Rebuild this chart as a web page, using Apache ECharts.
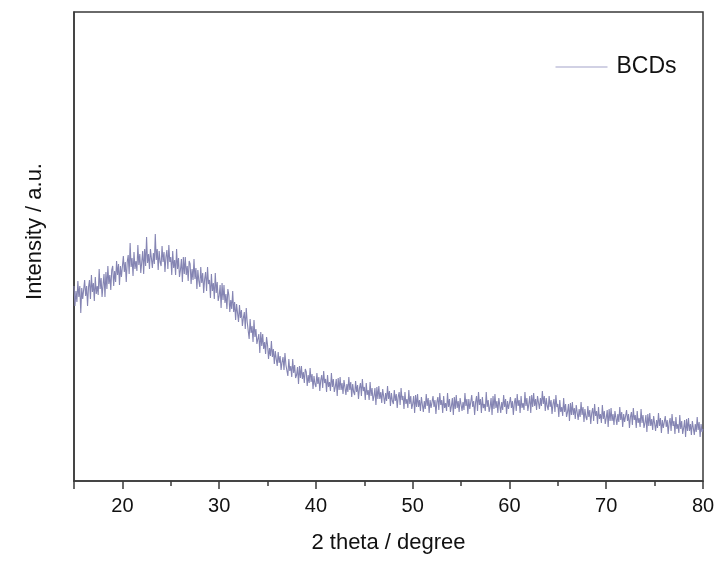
<!DOCTYPE html>
<html>
<head>
<meta charset="utf-8">
<script src="https://cdn.jsdelivr.net/npm/echarts@6/dist/echarts.min.js"></script>
<style>
html,body{margin:0;padding:0;background:#fff;}
#chart{width:720px;height:563px;}
</style>
</head>
<body>
<div id="chart"></div>
<script>
// Sampling of the pattern (2 theta, degrees)
const angleStart = 15;
const angleStep = 0.1;

// Intensity (arbitrary units), one row per degree, 10 samples per row
const intensity15to29 = [
  169,149,164,153,174,158,169,142,167,156,
  155,175,159,169,149,168,175,156,180,163,
  172,154,178,161,169,160,186,166,177,158,
  170,181,158,183,166,189,171,180,165,185,
  189,169,184,173,194,180,191,170,189,178,
  179,199,183,193,173,193,200,181,212,188,
  197,179,203,186,194,184,210,190,201,182,
  193,204,181,206,189,218,192,201,186,206,
  207,187,202,191,221,195,206,185,204,193,
  189,209,193,203,183,198,205,186,210,193,
  198,180,204,187,195,180,206,186,197,178,
  185,196,173,198,181,198,180,189,174,194,
  191,171,186,175,196,176,187,166,185,174,
  168,188,172,182,162,176,183,164,188,171,
  175,157,181,164,172,156,182,162,173,154
];
const intensity30to49 = [
  159,170,147,172,155,170,152,161,146,166,
  160,143,155,146,164,143,153,135,151,142,
  133,150,137,145,129,137,143,126,147,133,
  131,116,136,122,129,113,135,118,126,111,
  113,121,102,123,109,121,106,113,101,118,
  110,96,107,99,114,98,106,91,104,96,
  89,103,92,99,85,93,98,85,102,90,
  92,79,96,84,89,78,96,82,90,77,
  80,88,71,89,77,89,76,83,72,86,
  83,69,80,72,87,73,81,66,79,71,
  68,82,71,78,64,75,80,67,84,72,
  76,63,80,68,73,64,82,68,76,63,
  68,76,59,77,65,78,65,72,61,75,
  74,60,71,63,78,65,73,58,71,63,
  60,74,63,70,56,67,72,59,76,64,
  68,55,72,60,65,55,73,59,67,54,
  59,67,50,68,56,69,56,63,52,66,
  65,51,62,54,69,56,64,49,62,54,
  51,65,54,61,47,58,63,50,67,55,
  59,46,63,51,56,47,65,51,59,46
];
const intensity50to80 = [
  51,59,42,60,48,61,48,55,44,58,
  57,43,54,46,61,49,57,42,55,47,
  45,59,48,55,41,53,58,45,62,50,
  55,42,59,47,52,44,62,48,56,43,
  49,57,40,58,46,60,47,54,43,57,
  58,44,53,45,62,49,56,41,56,46,
  45,60,48,54,40,53,59,44,63,50,
  56,42,58,47,51,44,63,48,55,43,
  48,57,40,59,46,61,47,54,42,57,
  56,42,53,45,60,48,56,41,54,46,
  44,58,47,54,40,52,57,44,61,49,
  55,42,59,47,52,45,63,49,57,44,
  51,59,42,60,48,62,49,56,45,59,
  60,46,57,49,64,51,59,44,57,49,
  45,59,48,55,41,51,56,43,60,48,
  51,38,55,43,48,39,57,43,51,38,
  43,51,34,52,40,53,40,47,36,50,
  49,35,46,38,53,40,48,33,46,38,
  35,49,38,45,31,42,47,34,51,39,
  44,31,48,36,41,32,50,36,44,31,
  37,45,28,46,34,47,34,41,30,44,
  44,30,41,33,48,35,43,28,41,33,
  31,45,34,41,27,38,43,30,47,35,
  40,27,44,32,37,28,46,32,40,27,
  32,40,23,41,29,42,29,36,25,39,
  38,24,35,27,42,29,37,22,35,27,
  25,39,28,35,21,32,37,24,41,29,
  34,21,38,26,31,22,40,26,34,21,
  27,35,18,36,24,37,24,31,20,34,
  34,20,31,23,38,25,33,18,31,23,
  26
];

const seriesName = 'BCDs';
const xTitle = '2 theta / degree';
const yTitle = 'Intensity / a.u.';

const intensity = intensity15to29.concat(intensity30to49, intensity50to80);
const points = intensity.map((v, i) => [+(angleStart + i * angleStep).toFixed(1), v]);

const FONT = '"Liberation Sans", Arial, sans-serif';
const AXIS_COLOR = '#3a3a3a';
const LINE_COLOR = '#8585b3';

const chart = echarts.init(document.getElementById('chart'), null, {renderer: 'canvas'});
chart.setOption({
  backgroundColor: '#ffffff',
  animation: false,
  textStyle: {fontFamily: FONT},
  grid: {
    left: 74, right: 17, top: 12, bottom: 82,
    show: true, borderColor: AXIS_COLOR, borderWidth: 1.5, backgroundColor: 'transparent'
  },
  legend: {
    data: [seriesName],
    left: 555, top: 55, padding: 0,
    itemWidth: 52, itemHeight: 14,
    itemStyle: {color: 'rgba(0,0,0,0)', borderColor: 'rgba(0,0,0,0)', borderWidth: 0, opacity: 0},
    lineStyle: {color: '#a3a3c9', width: 1},
    textStyle: {fontFamily: FONT, fontSize: 23, lineHeight: 24, color: '#111', padding: [0, 0, 0, 4]}
  },
  xAxis: {
    type: 'value', min: 15, max: 80,
    name: xTitle, nameLocation: 'middle', nameGap: 51,
    nameTextStyle: {fontFamily: FONT, fontSize: 22, color: '#111'},
    axisLine: {show: true, onZero: false, lineStyle: {color: AXIS_COLOR, width: 1.5}},
    axisTick: {show: true, inside: false, length: 8, lineStyle: {color: AXIS_COLOR, width: 1.5}},
    minorTick: {show: true, splitNumber: 2, length: 5, lineStyle: {color: AXIS_COLOR, width: 1.5}},
    axisLabel: {fontFamily: FONT, fontSize: 20, color: '#111', margin: 15, showMinLabel: false, showMaxLabel: true},
    splitLine: {show: false}
  },
  yAxis: {
    type: 'value', min: -26, max: 443,
    name: yTitle, nameLocation: 'middle', nameGap: 28, nameRotate: 90,
    nameTextStyle: {fontFamily: FONT, fontSize: 22, color: '#111', padding: [0, 0, 0, 30]},
    axisLine: {show: true, onZero: false, lineStyle: {color: AXIS_COLOR, width: 1.5}},
    axisTick: {show: false},
    axisLabel: {show: false},
    splitLine: {show: false}
  },
  series: [{
    name: seriesName,
    type: 'line',
    data: points,
    symbol: 'none',
    showSymbol: false,
    sampling: null,
    lineStyle: {color: LINE_COLOR, width: 1.1},
    itemStyle: {color: LINE_COLOR}
  }]
});
</script>
</body>
</html>
